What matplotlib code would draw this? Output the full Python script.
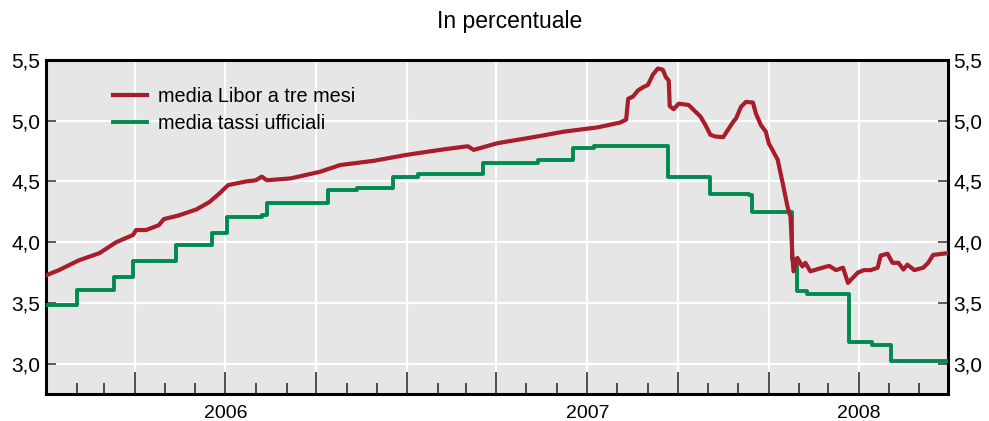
import matplotlib
matplotlib.use("Agg")
import matplotlib.pyplot as plt
import matplotlib.dates as mdates
import matplotlib.transforms as mtransforms
import pandas as pd

# media Libor a tre mesi
libor_dates = [
    "2006-01-02", "2006-01-14", "2006-02-03", "2006-02-24", "2006-03-13",
    "2006-03-30", "2006-04-02", "2006-04-12", "2006-04-25", "2006-04-30",
    "2006-05-15", "2006-06-02", "2006-06-15", "2006-06-25", "2006-07-04",
    "2006-07-22", "2006-08-01", "2006-08-07", "2006-08-12", "2006-09-05",
    "2006-10-05", "2006-10-25", "2006-11-28", "2007-01-01", "2007-02-03",
    "2007-03-03", "2007-03-09", "2007-04-02", "2007-05-12", "2007-06-08",
    "2007-07-12", "2007-08-04", "2007-08-10", "2007-08-12", "2007-08-17",
    "2007-08-22", "2007-08-27", "2007-09-01", "2007-09-06", "2007-09-11",
    "2007-09-16", "2007-09-19", "2007-09-22", "2007-09-23", "2007-09-27",
    "2007-10-02", "2007-10-12", "2007-10-17", "2007-10-24", "2007-10-29",
    "2007-11-03", "2007-11-08", "2007-11-16", "2007-11-26", "2007-11-29",
    "2007-12-04", "2007-12-09", "2007-12-16", "2007-12-19", "2007-12-24",
    "2007-12-29", "2008-01-01", "2008-01-10", "2008-01-15", "2008-01-20",
    "2008-01-23", "2008-01-25", "2008-01-26", "2008-01-30", "2008-02-04",
    "2008-02-07", "2008-02-12", "2008-02-20", "2008-03-02", "2008-03-09",
    "2008-03-16", "2008-03-21", "2008-03-31", "2008-04-06", "2008-04-13",
    "2008-04-20", "2008-04-23", "2008-04-30", "2008-05-05", "2008-05-11",
    "2008-05-16", "2008-05-20", "2008-05-27", "2008-06-05", "2008-06-10",
    "2008-06-15", "2008-06-30",
]
libor_values = [
    3.73, 3.77, 3.85, 3.91, 4.00,
    4.06, 4.10, 4.10, 4.14, 4.19,
    4.22, 4.27, 4.33, 4.40, 4.47,
    4.50, 4.51, 4.54, 4.51, 4.525,
    4.58, 4.635, 4.67, 4.72, 4.76,
    4.79, 4.76, 4.815, 4.87, 4.91,
    4.945, 4.985, 5.01, 5.18, 5.20,
    5.25, 5.275, 5.295, 5.38, 5.43,
    5.42, 5.36, 5.33, 5.12, 5.095,
    5.14, 5.13, 5.09, 5.035, 4.965,
    4.885, 4.87, 4.865, 4.99, 5.02,
    5.115, 5.155, 5.15, 5.06, 4.965,
    4.91, 4.815, 4.68, 4.49, 4.29,
    4.21, 3.87, 3.76, 3.87, 3.80,
    3.83, 3.76, 3.78, 3.805, 3.77,
    3.79, 3.665, 3.75, 3.77, 3.77,
    3.79, 3.89, 3.905, 3.83, 3.83,
    3.775, 3.815, 3.77, 3.79, 3.83,
    3.895, 3.91,
]

# media tassi ufficiali (step changes)
policy_dates = [
    "2006-01-01", "2006-02-01", "2006-03-11", "2006-03-30", "2006-05-12",
    "2006-06-18", "2006-07-03", "2006-08-07", "2006-08-12", "2006-10-13",
    "2006-11-11", "2006-12-17", "2007-01-12", "2007-03-18", "2007-05-13",
    "2007-06-17", "2007-07-09", "2007-09-21", "2007-11-03", "2007-12-12",
    "2007-12-15", "2008-01-24", "2008-01-30", "2008-02-09", "2008-03-22",
    "2008-04-14", "2008-05-03", "2008-06-30",
]
policy_values = [
    3.48, 3.61, 3.71, 3.845, 3.98,
    4.075, 4.205, 4.22, 4.325, 4.43,
    4.45, 4.54, 4.56, 4.655, 4.68,
    4.775, 4.795, 4.535, 4.40, 4.39,
    4.25, 3.86, 3.60, 3.575, 3.175,
    3.155, 3.025, 3.025,
]

year_labels = ["2006", "2007", "2008"]
year_centers = ["2006-07-02", "2007-07-02", "2008-04-01"]
y_ticks = [3.0, 3.5, 4.0, 4.5, 5.0, 5.5]

RED = "#a81c2c"
GREEN = "#008a50"

plt.rcParams["font.family"] = ["Liberation Sans", "DejaVu Sans"]

fig = plt.figure(figsize=(9.89, 4.21), dpi=100)
ax = fig.add_axes([0.0465, 0.0641, 0.912, 0.7934])
ax.set_facecolor("#e6e6e6")

l_pol, = ax.plot(pd.to_datetime(policy_dates), policy_values, color=GREEN, lw=2.8,
                 drawstyle="steps-post", label="media tassi ufficiali", zorder=3)
l_lib, = ax.plot(pd.to_datetime(libor_dates), libor_values, color=RED, lw=3.0,
                 label="media Libor a tre mesi", zorder=4)

ax.set_xlim(pd.Timestamp("2006-01-01"), pd.Timestamp("2008-06-30"))
ax.set_ylim(2.75, 5.5)

# y axis: labels on both sides, comma decimals
ax.set_yticks(y_ticks)
ax.yaxis.set_major_formatter(plt.FuncFormatter(lambda v, p: f"{v:.1f}".replace(".", ",")))
ax.tick_params(axis="y", direction="in", length=7.5, width=1.2, color="#404040",
               left=True, right=True, labelleft=True, labelright=True,
               labelsize=15, pad=4)

# x axis: quarter ticks (long), month ticks (short)
ax.xaxis.set_major_locator(mdates.MonthLocator(bymonth=[1, 4, 7, 10]))
ax.xaxis.set_minor_locator(mdates.MonthLocator())
ax.xaxis.set_major_formatter(plt.NullFormatter())
ax.tick_params(axis="x", which="major", direction="in", length=16, width=1.2, color="#303030")
ax.tick_params(axis="x", which="minor", direction="in", length=8, width=1.2, color="#303030")

# year boundaries get the longest ticks
sec = ax.secondary_xaxis("bottom")
sec.set_xticks(pd.to_datetime(["2007-01-01", "2008-01-01"]))
sec.xaxis.set_major_formatter(plt.NullFormatter())
sec.tick_params(axis="x", direction="in", length=27, width=1.2, color="#303030")
sec.spines["bottom"].set_visible(False)

trans = mtransforms.blended_transform_factory(ax.transData, ax.transAxes)
for lab, c in zip(year_labels, pd.to_datetime(year_centers)):
    ax.text(c, -0.057, lab, transform=trans, ha="center", va="center", fontsize=14)

ax.grid(True, which="major", color="white", lw=1.6)
ax.set_axisbelow(True)

for s in ax.spines.values():
    s.set_linewidth(2.2)
    s.set_color("black")

ax.legend(handles=[l_lib, l_pol], loc="upper left", bbox_to_anchor=(0.074, 0.92),
          frameon=False, fontsize=14.3, handlelength=1.75, handletextpad=0.55,
          labelspacing=0.4, borderpad=0, borderaxespad=0)

fig.text(0.515, 0.948, "In percentuale", ha="center", va="center", fontsize=16.5)

fig.savefig("out.png", dpi=100)
